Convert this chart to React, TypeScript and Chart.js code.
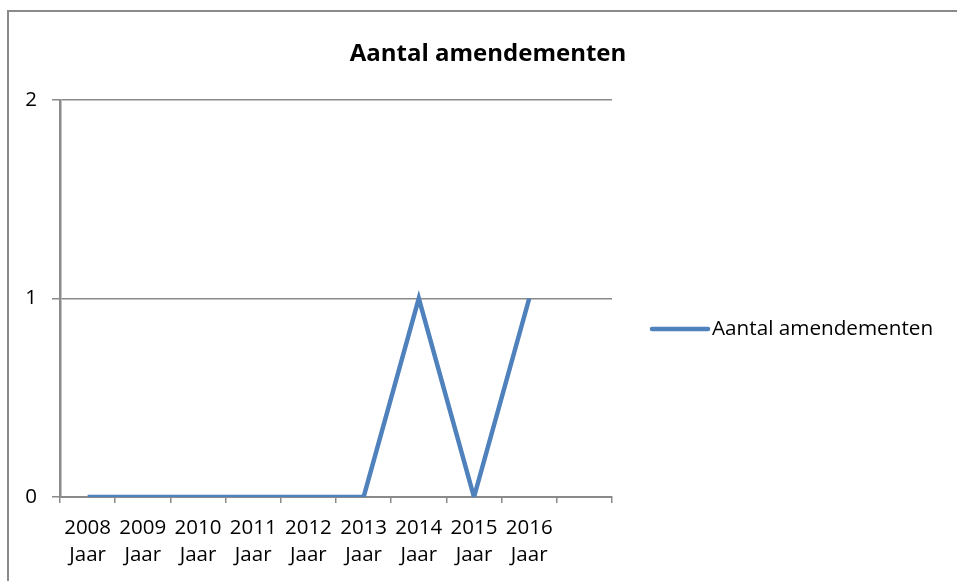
import React, { useEffect, useRef } from "react";
import { Chart, registerables } from "chart.js";

Chart.register(...registerables);

const categories: string[][] = [
  ["2008", "Jaar"],
  ["2009", "Jaar"],
  ["2010", "Jaar"],
  ["2011", "Jaar"],
  ["2012", "Jaar"],
  ["2013", "Jaar"],
  ["2014", "Jaar"],
  ["2015", "Jaar"],
  ["2016", "Jaar"],
  [""],
];
const seriesName = "Aantal amendementen";
const seriesValues: (number | null)[] = [0, 0, 0, 0, 0, 0, 1, 0, 1, null];
const chartTitle = "Aantal amendementen";
const yTicks = [0, 1, 2];

const FONT = "'Open Sans', 'Liberation Sans', sans-serif";
const GRID = "#8a8a8a";
const LINE = "#4F81BD";

const decorPlugin = {
  id: "decor",
  beforeDraw(chart: any) {
    const ctx = chart.ctx as CanvasRenderingContext2D;
    ctx.save();
    ctx.fillStyle = "#fff";
    ctx.fillRect(0, 0, chart.width, chart.height);
    ctx.strokeStyle = GRID;
    ctx.lineWidth = 2;
    ctx.beginPath();
    ctx.moveTo(8, chart.height + 5);
    ctx.lineTo(8, 11);
    ctx.lineTo(chart.width + 5, 11);
    ctx.stroke();
    ctx.restore();
  },
  afterDraw(chart: any) {
    const ctx = chart.ctx as CanvasRenderingContext2D;
    const area = chart.chartArea;
    ctx.save();
    // title
    ctx.fillStyle = "#000";
    ctx.font = `bold 24px ${FONT}`;
    ctx.textAlign = "center";
    ctx.textBaseline = "middle";
    ctx.fillText(chartTitle, 488, 54);
    // legend
    const ly = 329;
    const lx = area.right + 40;
    ctx.strokeStyle = LINE;
    ctx.lineWidth = 4.5;
    ctx.lineCap = "round";
    ctx.beginPath();
    ctx.moveTo(lx, ly);
    ctx.lineTo(lx + 56, ly);
    ctx.stroke();
    ctx.font = `20.7px ${FONT}`;
    ctx.textAlign = "left";
    ctx.fillText(seriesName, lx + 60, ly);
    ctx.restore();
  },
};

export default function App() {
  const ref = useRef<HTMLCanvasElement | null>(null);
  useEffect(() => {
    if (!ref.current) return;
    const chart = new Chart(ref.current, {
      type: "line",
      data: {
        labels: categories,
        datasets: [
          {
            label: seriesName,
            data: seriesValues,
            borderColor: LINE,
            backgroundColor: LINE,
            borderWidth: 4.5,
            pointRadius: 0,
            tension: 0,
            fill: false,
          },
        ],
      },
      options: {
        animation: false,
        responsive: false,
        devicePixelRatio: 1,
        layout: { padding: { top: 100, right: 345, left: 0, bottom: 0 } },
        plugins: {
          legend: { display: false },
          title: { display: false },
          tooltip: { enabled: false },
        },
        scales: {
          x: {
            type: "category",
            offset: true,
            grid: {
              display: true,
              drawOnChartArea: false,
              drawTicks: true,
              tickLength: 6,
              color: GRID,
              lineWidth: 1.5,
              offset: true,
            },
            border: { display: true, color: GRID, width: 2 },
            ticks: {
              color: "#000",
              font: { family: FONT, size: 20.5, lineHeight: 1.3 },
              padding: 12,
              maxRotation: 0,
              autoSkip: false,
            },
            afterFit: (s: any) => {
              s.height = 84;
            },
          },
          y: {
            min: 0,
            max: 2,
            afterBuildTicks: (s: any) => {
              s.ticks = yTicks.map((v) => ({ value: v }));
            },
            grid: {
              color: GRID,
              lineWidth: 1.5,
              tickLength: 8,
              drawTicks: true,
            },
            border: { display: true, color: GRID, width: 2.5 },
            ticks: {
              color: "#000",
              font: { family: FONT, size: 20.5 },
              padding: 15,
            },
            afterFit: (s: any) => {
              s.width = 60;
            },
          },
        },
      },
      plugins: [decorPlugin],
    });
    return () => chart.destroy();
  }, []);

  return (
    <div style={{ position: "absolute", left: 0, top: 0, width: 957, height: 581, overflow: "hidden", background: "#fff" }}>
      <canvas ref={ref} width={957} height={581} style={{ display: "block" }} />
    </div>
  );
}
